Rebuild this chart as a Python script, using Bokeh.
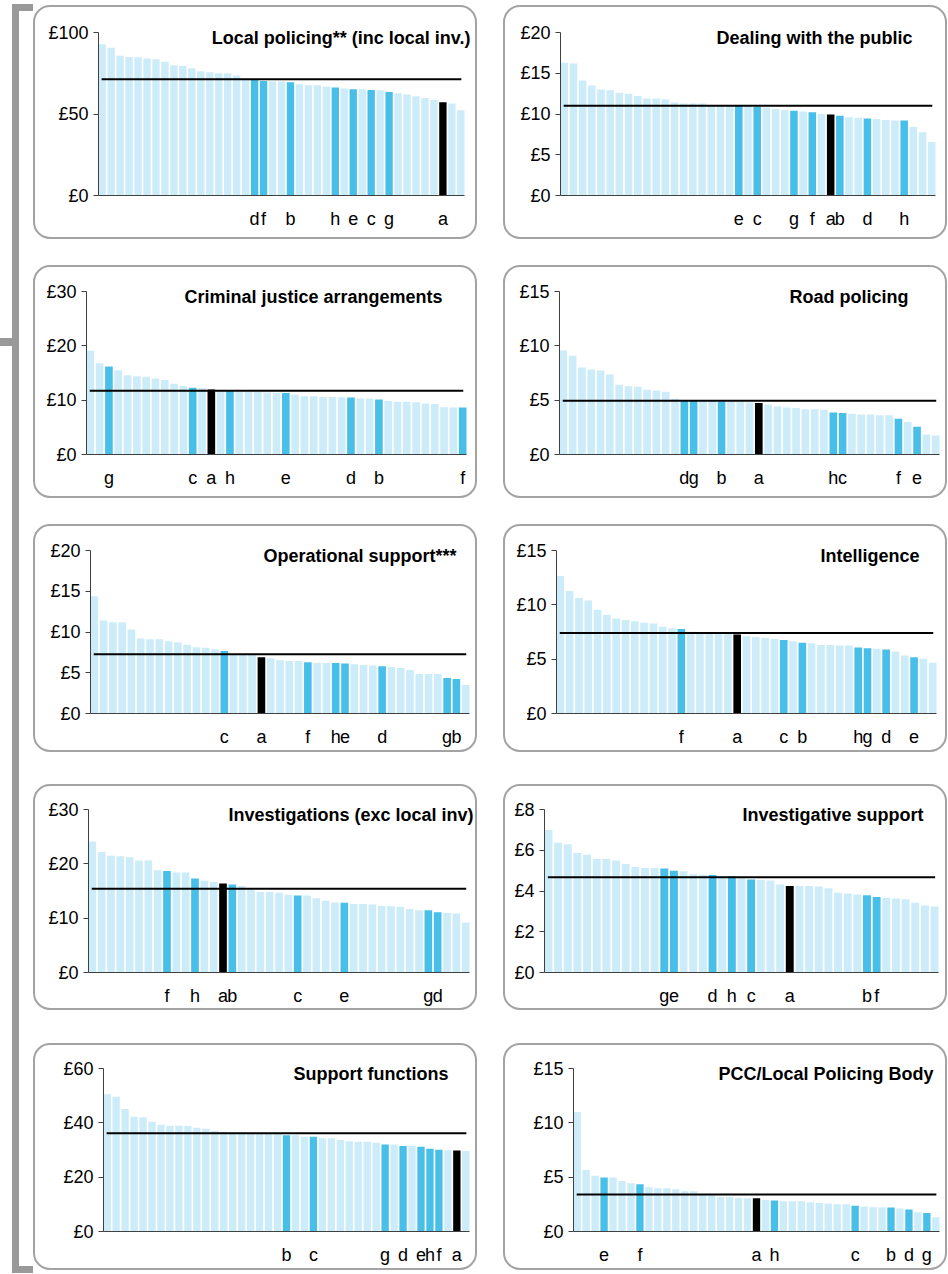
from bokeh.plotting import figure
from bokeh.layouts import column, row
from bokeh.models import Range1d, FixedTicker, PrintfTickFormatter, Label, Div, Spacer
from bokeh.embed import file_html
from bokeh.resources import INLINE

# ---------------- data (41 forces, sorted high to low) ----------------
local_policing_title = "Local policing** (inc local inv.)"
local_policing = [92.8, 90.6, 85.7, 85.0, 84.8, 84.0, 83.6, 82.0, 79.9, 79.5,
                  78.1, 76.2, 75.6, 75.0, 75.0, 73.6, 71.3, 71.1, 70.3, 69.9,
                  69.9, 69.5, 68.2, 67.6, 67.6, 66.8, 66.2, 65.6, 65.2, 65.2,
                  64.8, 64.5, 63.5, 62.7, 61.9, 60.9, 59.8, 58.6, 57.2, 56.4, 52.3]
local_policing_mean = 71.3
local_policing_marks = {"d": 18, "f": 19, "b": 22, "h": 27, "e": 29, "c": 31, "g": 33, "a": 39}
local_policing_ticks = [0, 50, 100]

public_title = "Dealing with the public"
public = [16.3, 16.2, 14.1, 13.5, 13.0, 12.9, 12.6, 12.5, 12.2, 11.9,
          11.9, 11.8, 11.4, 11.3, 11.3, 11.3, 11.1, 11.1, 11.1, 11.0,
          11.0, 10.9, 10.8, 10.6, 10.5, 10.4, 10.3, 10.2, 10.0, 9.95,
          9.8, 9.6, 9.55, 9.45, 9.4, 9.25, 9.2, 9.2, 8.4, 7.75, 6.55]
public_mean = 11.0
public_marks = {"e": 20, "c": 22, "g": 26, "f": 28, "a": 30, "b": 31, "d": 34, "h": 38}
public_ticks = [0, 5, 10, 15, 20]

justice_title = "Criminal justice arrangements"
justice = [19.1, 16.8, 16.2, 15.5, 14.6, 14.4, 14.3, 14.0, 13.7, 13.0,
           12.6, 12.3, 12.25, 11.95, 11.8, 11.75, 11.6, 11.6, 11.5, 11.4,
           11.3, 11.3, 11.0, 10.7, 10.7, 10.6, 10.6, 10.55, 10.5, 10.3,
           10.3, 10.1, 9.85, 9.7, 9.7, 9.6, 9.4, 9.3, 8.7, 8.65, 8.65]
justice_mean = 11.75
justice_marks = {"g": 3, "c": 12, "a": 14, "h": 16, "e": 22, "d": 29, "b": 32, "f": 41}
justice_ticks = [0, 10, 20, 30]

road_title = "Road policing"
road = [9.57, 9.08, 8.0, 7.82, 7.73, 7.36, 6.41, 6.29, 6.23, 5.95,
        5.89, 5.77, 5.12, 5.0, 4.97, 4.94, 4.9, 4.88, 4.88, 4.82,
        4.79, 4.75, 4.6, 4.42, 4.33, 4.29, 4.17, 4.17, 4.11, 3.87,
        3.83, 3.74, 3.68, 3.68, 3.62, 3.62, 3.28, 3.0, 2.55, 1.84, 1.75]
road_mean = 4.94
road_marks = {"d": 14, "g": 15, "b": 18, "a": 22, "h": 30, "c": 31, "f": 37, "e": 39}
road_ticks = [0, 5, 10, 15]

opsupport_title = "Operational support***"
opsupport = [14.4, 11.4, 11.2, 11.2, 10.3, 9.2, 9.1, 9.1, 8.86, 8.7,
             8.45, 8.12, 8.08, 7.84, 7.67, 7.3, 7.3, 7.25, 6.9, 6.78,
             6.53, 6.45, 6.45, 6.29, 6.2, 6.2, 6.2, 6.12, 6.04, 5.96,
             5.88, 5.8, 5.71, 5.59, 5.35, 4.86, 4.86, 4.86, 4.37, 4.24, 3.51]
opsupport_mean = 7.27
opsupport_marks = {"c": 15, "a": 19, "f": 24, "h": 27, "e": 28, "d": 32, "g": 39, "b": 40}
opsupport_ticks = [0, 5, 10, 15, 20]

intel_title = "Intelligence"
intel = [12.65, 11.28, 10.64, 10.4, 9.54, 9.09, 8.75, 8.6, 8.48, 8.35,
         8.29, 7.99, 7.84, 7.77, 7.53, 7.5, 7.47, 7.4, 7.32, 7.26,
         7.1, 7.04, 6.95, 6.86, 6.77, 6.65, 6.52, 6.46, 6.31, 6.31,
         6.25, 6.25, 6.07, 6.0, 5.95, 5.88, 5.7, 5.34, 5.18, 5.03, 4.66]
intel_mean = 7.4
intel_marks = {"f": 14, "a": 20, "c": 25, "b": 27, "h": 33, "g": 34, "d": 36, "e": 39}
intel_ticks = [0, 5, 10, 15]

invest_title = "Investigations (exc local inv)"
invest = [24.1, 22.2, 21.5, 21.4, 21.2, 20.6, 20.6, 18.8, 18.7, 18.4,
          18.4, 17.3, 16.9, 16.65, 16.4, 16.2, 15.9, 15.2, 14.8, 14.8,
          14.7, 14.3, 14.15, 14.15, 13.65, 13.2, 12.9, 12.85, 12.6, 12.6,
          12.5, 12.25, 12.2, 12.1, 11.7, 11.45, 11.45, 11.1, 10.95, 10.85, 9.2]
invest_mean = 15.4
invest_marks = {"f": 9, "h": 12, "a": 15, "b": 16, "c": 23, "e": 28, "g": 37, "d": 38}
invest_ticks = [0, 10, 20, 30]

invsupport_title = "Investigative support"
invsupport = [6.99, 6.37, 6.3, 5.86, 5.78, 5.57, 5.57, 5.5, 5.33, 5.18,
              5.13, 5.13, 5.1, 5.0, 4.97, 4.82, 4.8, 4.79, 4.72, 4.71,
              4.63, 4.56, 4.54, 4.51, 4.32, 4.25, 4.25, 4.25, 4.22, 4.14,
              3.91, 3.88, 3.83, 3.79, 3.7, 3.66, 3.63, 3.6, 3.42, 3.29, 3.24]
invsupport_mean = 4.67
invsupport_marks = {"g": 13, "e": 14, "d": 18, "h": 20, "c": 22, "a": 26, "b": 34, "f": 35}
invsupport_ticks = [0, 2, 4, 6, 8]

support_title = "Support functions"
support = [50.5, 49.6, 45.1, 42.2, 42.1, 40.4, 39.3, 38.9, 38.9, 38.8,
           38.2, 37.8, 37.0, 36.7, 36.6, 36.5, 36.3, 36.2, 36.2, 35.9,
           35.4, 35.4, 34.9, 34.9, 34.3, 34.3, 33.7, 33.2, 33.0, 33.0,
           32.7, 32.0, 32.0, 31.5, 31.5, 31.2, 30.5, 30.1, 29.9, 29.8, 29.6]
support_mean = 36.2
support_marks = {"b": 21, "c": 24, "g": 32, "d": 34, "e": 36, "h": 37, "f": 38, "a": 40}
support_ticks = [0, 20, 40, 60]

pcc_title = "PCC/Local Policing Body"
pcc = [11.0, 5.66, 5.14, 4.96, 4.96, 4.65, 4.44, 4.35, 4.07, 3.98,
       3.98, 3.89, 3.7, 3.7, 3.46, 3.34, 3.18, 3.18, 3.09, 3.07,
       3.06, 2.91, 2.85, 2.79, 2.79, 2.79, 2.69, 2.63, 2.57, 2.51,
       2.51, 2.36, 2.3, 2.23, 2.23, 2.2, 2.11, 2.02, 1.78, 1.71, 1.32]
pcc_mean = 3.4
pcc_marks = {"e": 4, "f": 8, "a": 21, "h": 23, "c": 32, "b": 36, "d": 38, "g": 40}
pcc_ticks = [0, 5, 10, 15]

# ---------------- styles / layout ----------------
FONT = "Liberation Sans"
LIGHT = "#cdecf9"
BLUE = "#48bfe8"
BLACK = "#000000"
BOX = "#a3a3a3"
AXIS = "#404040"
BRACKET = "#999999"

# (title, values, mean, marks, ticks, left inset, right inset, title x offset)
panels = [
    (local_policing_title, local_policing, local_policing_mean, local_policing_marks, local_policing_ticks, 65, 13, 6),
    (public_title, public, public_mean, public_marks, public_ticks, 57, 12, -23),
    (justice_title, justice, justice_mean, justice_marks, justice_ticks, 53, 11, -24),
    (road_title, road, road_mean, road_marks, road_ticks, 56, 8, -31),
    (opsupport_title, opsupport, opsupport_mean, opsupport_marks, opsupport_ticks, 57, 8, -13),
    (intel_title, intel, intel_mean, intel_marks, intel_ticks, 53, 11, -17),
    (invest_title, invest, invest_mean, invest_marks, invest_ticks, 55, 8, 4),
    (invsupport_title, invsupport, invsupport_mean, invsupport_marks, invsupport_ticks, 41, 9, -15),
    (support_title, support, support_mean, support_marks, support_ticks, 70, 8, -21),
    (pcc_title, pcc, pcc_mean, pcc_marks, pcc_ticks, 70, 8, -6),
]

ROW_H = [234, 233, 228, 226, 227]
ROW_TOP = [27, 26, 26, 25, 25]
ROW_GAP = [26, 26, 32, 33]
FRAME_H = 163      # height of the plotted data area (0 .. top tick)
EXT_T = 16         # extra frame room above the top tick (for the panel title)
EXT_R = 8          # extra frame room right of the last bar (for the panel title)
BOX_W = 444
BAR_W = 0.82


def make_panel(title, values, mean, marks, ticks, left, right, tdx, h, top):
    n = len(values)
    xs = list(range(1, n + 1))
    letter_at = {pos: letter for letter, pos in marks.items()}
    colors = []
    for i in xs:
        if i in letter_at:
            colors.append(BLACK if letter_at[i] == "a" else BLUE)
        else:
            colors.append(LIGHT)
    x0 = 1 - BAR_W / 2
    x1 = n + BAR_W / 2
    ymax = ticks[-1]
    frame_w = BOX_W - left - right
    ppu = frame_w / (x1 - x0)
    x_end = x1 + EXT_R / ppu
    y_end = ymax * (FRAME_H + EXT_T) / FRAME_H
    p = figure(width=BOX_W, height=h,
               x_range=Range1d(x0, x_end), y_range=Range1d(0, y_end),
               output_backend="svg", toolbar_location=None,
               min_border_left=left, min_border_right=right - EXT_R,
               min_border_top=top - EXT_T, min_border_bottom=h - top - FRAME_H,
               border_fill_color=None, background_fill_color=None,
               outline_line_color=None,
               styles={"outline": "2px solid " + BOX, "outline-offset": "-2px",
                       "border-radius": "17px"})
    p.xgrid.visible = False
    p.ygrid.visible = False
    p.vbar(x=xs, top=values, width=BAR_W, fill_color=colors, line_color=None)
    p.segment(x0=[x0 + 0.35], y0=[mean], x1=[x1 - 0.35], y1=[mean],
              line_color="black", line_width=2)

    ya = p.yaxis[0]
    ya.bounds = (0, ymax)
    ya.ticker = FixedTicker(ticks=ticks)
    ya.formatter = PrintfTickFormatter(format="£%d")
    ya.major_label_text_font = FONT
    ya.major_label_text_font_size = "18px"
    ya.major_label_text_color = "black"
    ya.axis_line_color = AXIS
    ya.major_tick_line_color = AXIS
    ya.major_tick_out = 5
    ya.major_tick_in = 0
    ya.minor_tick_out = 0
    ya.minor_tick_in = 0
    ya.major_label_standoff = 5

    xa = p.xaxis[0]
    xa.bounds = (x0, x1)
    pos = sorted(letter_at)
    xa.ticker = FixedTicker(ticks=pos)
    xa.major_label_overrides = {k: letter_at[k] for k in pos}
    xa.major_label_text_font = FONT
    xa.major_label_text_font_size = "18px"
    xa.major_label_text_color = "black"
    xa.axis_line_color = AXIS
    xa.major_tick_out = 0
    xa.major_tick_in = 0
    xa.minor_tick_out = 0
    xa.minor_tick_in = 0
    xa.major_label_standoff = 13

    p.add_layout(Label(x=x1, y=ymax, x_units="data", y_units="data", text=title,
                       text_align="right", text_baseline="middle",
                       x_offset=tdx, y_offset=-5,
                       text_font=FONT, text_font_style="bold",
                       text_font_size="18px", text_color="black"))
    return p


figs = []
for k, cfg in enumerate(panels):
    r = k // 2
    figs.append(make_panel(*cfg, ROW_H[r], ROW_TOP[r]))

children = [Spacer(height=5, width=10)]
for r in range(5):
    children.append(row(figs[2 * r], figs[2 * r + 1], spacing=26))
    if r < 4:
        children.append(Spacer(height=ROW_GAP[r], width=10))
grid = column(*children, spacing=0)

PAGE_H = 1274
bracket = Div(width=33, height=PAGE_H, margin=(0, 0, 0, 0), text=(
    '<div style="position:relative;width:33px;height:%dpx">'
    '<div style="position:absolute;left:12px;top:4px;width:7px;height:%dpx;background:%s"></div>'
    '<div style="position:absolute;left:12px;top:4px;width:21px;height:7px;background:%s"></div>'
    '<div style="position:absolute;left:12px;top:%dpx;width:21px;height:7px;background:%s"></div>'
    '<div style="position:absolute;left:0px;top:338px;width:12px;height:8px;background:%s"></div>'
    '</div>') % (PAGE_H, PAGE_H - 5, BRACKET, BRACKET, PAGE_H - 8, BRACKET, BRACKET))

root = row(bracket, grid, spacing=0)

open("out.html", "w").write(file_html(root, INLINE, "Police spend per head"))
